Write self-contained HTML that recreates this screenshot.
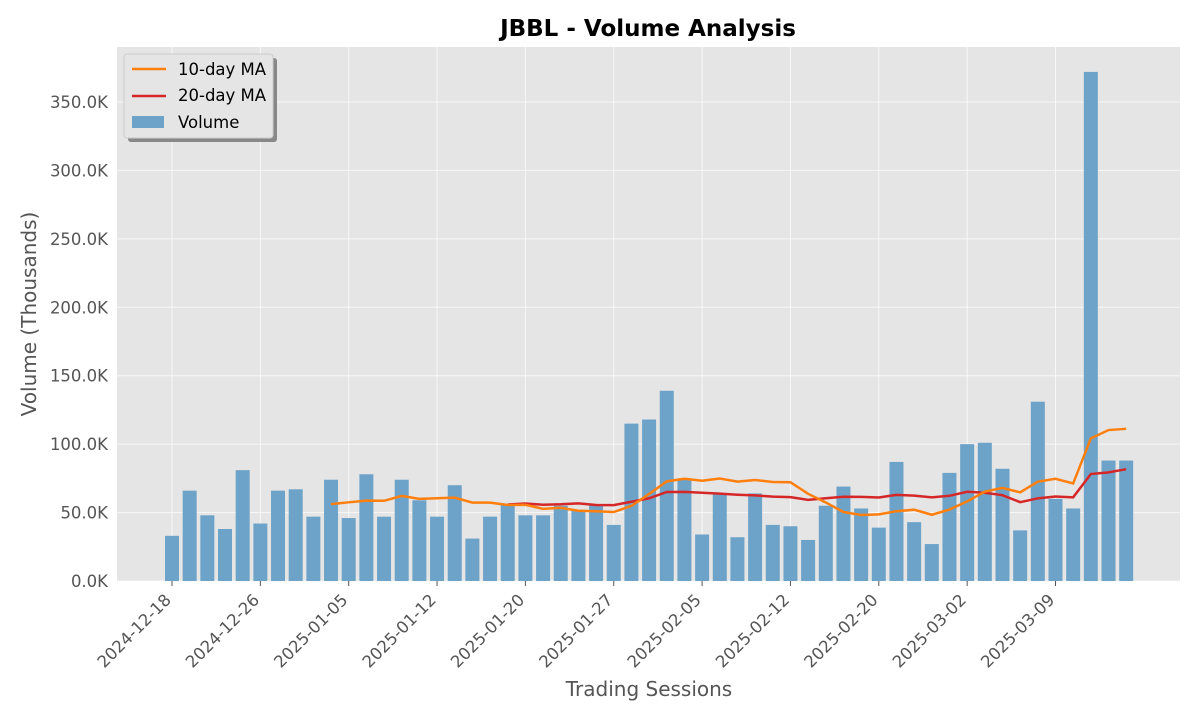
<!DOCTYPE html>
<html><head><meta charset="utf-8"><style>
body{margin:0;background:#fff;font-family:"Liberation Sans","DejaVu Sans",sans-serif}
svg text{font-family:"DejaVu Sans","Liberation Sans",sans-serif}
</style></head><body>
<svg id="c" width="1200" height="720" xmlns="http://www.w3.org/2000/svg">
<rect x="117" y="47" width="1063" height="534" fill="#e5e5e5"/>
<g id="grid"></g><g id="bars"></g><g id="lines"></g><g id="axes"></g>
<text x="648" y="36" text-anchor="middle" font-size="23" font-weight="bold" fill="#000">JBBL - Volume Analysis</text>
<text x="649" y="696" text-anchor="middle" font-size="20" fill="#555">Trading Sessions</text>
<text transform="translate(36,314) rotate(-90)" text-anchor="middle" font-size="20" fill="#555">Volume (Thousands)</text>
<g>
<rect x="128" y="58" width="149" height="84" rx="3" fill="#888"/>
<rect x="124" y="54" width="149" height="84" rx="3" fill="#e5e5e5" stroke="#ccc"/>
<line x1="132" y1="69" x2="166" y2="69" stroke="#ff7f0e" stroke-width="2.5"/>
<text x="178" y="75" font-size="16.5" fill="#000">10-day MA</text>
<line x1="132" y1="96" x2="166" y2="96" stroke="#d62728" stroke-width="2.5"/>
<text x="178" y="101" font-size="16.5" fill="#000">20-day MA</text>
<rect x="132" y="116" width="32" height="12" fill="#6ea3c9"/>
<text x="178" y="128" font-size="16.5" fill="#000">Volume</text>
</g>
</svg>
<script>
const volumes=[33,66,48,38,81,42,66,67,47,74,46,78,47,74,59,47,70,31,47,56,48,48,55,52,56,41,115,118,139,75,34,64,32,64,41,40,30,55,69,53,39,87,43,27,79,100,101,82,37,131,60,53,372,88,88];
const tickIdx=[0,5,10,15,20,25,30,35,40,45,50];
const tickLabels=["2024-12-18","2024-12-26","2025-01-05","2025-01-12","2025-01-20","2025-01-27","2025-02-05","2025-02-12","2025-02-20","2025-03-02","2025-03-09"];
const yTicks=[0,50,100,150,200,250,300,350];
const NS="http://www.w3.org/2000/svg";
const X=i=>172+i*17.67, Y=v=>581-v*(479/350);
function mk(t,a,p){const e=document.createElementNS(NS,t);for(const k in a)e.setAttribute(k,a[k]);document.getElementById(p).appendChild(e);return e;}
yTicks.forEach(v=>{
 let g=mk('line',{x1:117,x2:1180,y1:Y(v),y2:Y(v),stroke:'#fff','stroke-width':1,opacity:0.7},'grid');
 
 
 let t=mk('text',{x:108,y:Y(v)+6,'text-anchor':'end','font-size':16.5,fill:'#555'},'axes');t.textContent=v.toFixed(1)+'K';
 
 
});
tickIdx.forEach((ix,k)=>{
 let g=mk('line',{x1:X(ix),x2:X(ix),y1:47,y2:581,stroke:'#fff','stroke-width':1,opacity:0.7},'grid');
 
 
 let tk=mk('line',{x1:X(ix),x2:X(ix),y1:581,y2:586,stroke:'#555'},'axes');
 
 
 let t=mk('text',{transform:`translate(${X(ix)},${601}) rotate(-45)`,'text-anchor':'end','font-size':16.5,fill:'#555'},'axes');t.textContent=tickLabels[k];
 
 
});
volumes.forEach((v,i)=>{
 let b=mk('rect',{x:X(i)-7,y:Y(v),width:14,height:581-Y(v),fill:'#6ea3c9'},'bars');
 
 
});
function ma(n){const p=[];for(let i=n-1;i<volumes.length;i++){let s=0;for(let j=i-n+1;j<=i;j++)s+=volumes[j];p.push(X(i)+','+Y(s/n));}return p.join(' ');}
let l1=mk('polyline',{points:ma(20),fill:'none',stroke:'#d62728','stroke-width':2.5},'lines');


let l2=mk('polyline',{points:ma(10),fill:'none',stroke:'#ff7f0e','stroke-width':2.5},'lines');


</script>
</body></html>
